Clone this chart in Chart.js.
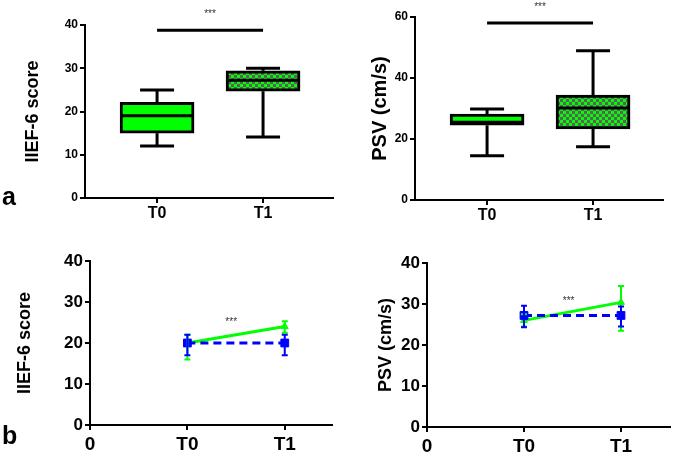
<!DOCTYPE html>
<html>
<head>
<meta charset="utf-8">
<script src="https://cdn.jsdelivr.net/npm/chart.js@4/dist/chart.umd.min.js"></script>
<style>
  html, body { margin: 0; padding: 0; background: #fff; }
  #wrap { position: relative; width: 676px; height: 453px; overflow: hidden; font-family: "Liberation Sans", Arial, sans-serif; }
  canvas { position: absolute; }
  .tag { position: absolute; font-weight: bold; font-size: 25px; line-height: 1; color: #000; }
</style>
</head>
<body>
<div id="wrap">
  <canvas id="c1" width="338" height="226" style="left:0;top:0"></canvas>
  <canvas id="c2" width="338" height="228" style="left:338px;top:0"></canvas>
  <canvas id="c3" width="338" height="225" style="left:0;top:228px"></canvas>
  <canvas id="c4" width="338" height="225" style="left:338px;top:228px"></canvas>
  <div class="tag" style="left:2px;top:184px">a</div>
  <div class="tag" style="left:2px;top:423px">b</div>
</div>
<script>
// ---- data ----
const timeLabels = ["T0", "T1"];
const timePos = [1, 2];

// (a) box plots: min / Q1 / median / Q3 / max
const iiefMin = [12, 14.1];
const iiefQ1 = [15, 24.7];
const iiefMed = [19, 27.2];
const iiefQ3 = [22.1, 29.4];
const iiefMax = [25, 30];
const iiefSig = 38.8;

const psvMin = [14.5, 17.5];
const psvQ1 = [24.5, 23.3];
const psvMed = [25.5, 30.2];
const psvQ3 = [28.2, 34.4];
const psvMax = [29.8, 48.9];
const psvSig = 58;

// (b) means with error bars, green = solid, blue = dashed
const iiefGreen = [20, 24];
const iiefGreenLo = [16, 22.5];
const iiefGreenHi = [22, 25.3];
const iiefBlue = [20, 20];
const iiefBlueLo = [17, 17];
const iiefBlueHi = [22, 22];
const iiefStar = [1.45, 25];

const psvGreen = [26, 30.4];
const psvGreenLo = [24.5, 23.5];
const psvGreenHi = [27.5, 34.4];
const psvBlue = [27.2, 27.2];
const psvBlueLo = [24.3, 24.5];
const psvBlueHi = [29.6, 29.4];
const psvStar = [1.46, 30.7];

const FONT = "'Liberation Sans', Arial, sans-serif";
const GREEN = "#00ff00";
const BLUE = "#0000ff";

function checker() {
  const c = document.createElement("canvas");
  c.width = 6; c.height = 6;
  const g = c.getContext("2d");
  g.fillStyle = "#5f5f5f"; g.fillRect(0, 0, 6, 6);
  g.fillStyle = GREEN; g.fillRect(0, 0, 3, 3); g.fillRect(3, 3, 3, 3);
  return g.createPattern(c, "repeat");
}

// whiskers, medians and the significance bar for the box panels
const boxExtras = {
  id: "boxExtras",
  afterDatasetsDraw(chart, args, o) {
    const { ctx, scales: { x, y } } = chart;
    ctx.save();
    ctx.strokeStyle = "#000"; ctx.lineWidth = 3; ctx.lineCap = "butt";
    const half = 37, cap = 17;
    timePos.forEach((p, i) => {
      const px = x.getPixelForValue(p);
      const seg = (x1, y1, x2, y2) => { ctx.beginPath(); ctx.moveTo(x1, y1); ctx.lineTo(x2, y2); ctx.stroke(); };
      seg(px, y.getPixelForValue(o.q3[i]), px, y.getPixelForValue(o.max[i]));
      seg(px, y.getPixelForValue(o.q1[i]), px, y.getPixelForValue(o.min[i]));
      seg(px - cap, y.getPixelForValue(o.max[i]), px + cap, y.getPixelForValue(o.max[i]));
      seg(px - cap, y.getPixelForValue(o.min[i]), px + cap, y.getPixelForValue(o.min[i]));
      seg(px - half + 2, y.getPixelForValue(o.med[i]), px + half - 2, y.getPixelForValue(o.med[i]));
    });
    const sy = y.getPixelForValue(o.sig);
    ctx.beginPath();
    ctx.moveTo(x.getPixelForValue(timePos[0]), sy);
    ctx.lineTo(x.getPixelForValue(timePos[1]), sy);
    ctx.stroke();
    ctx.fillStyle = "#333"; ctx.font = "10px " + FONT; ctx.textAlign = "center"; ctx.textBaseline = "middle";
    ctx.fillText("***", (x.getPixelForValue(timePos[0]) + x.getPixelForValue(timePos[1])) / 2, sy - 16);
    ctx.restore();
  }
};

// vertical error bars for the mean panels
const errBars = {
  id: "errBars",
  afterDatasetsDraw(chart, args, o) {
    const { ctx, scales: { x, y } } = chart;
    ctx.save();
    ctx.lineWidth = 2;
    o.sets.forEach(s => {
      ctx.strokeStyle = s.color;
      timePos.forEach((p, i) => {
        const px = x.getPixelForValue(p);
        const lo = y.getPixelForValue(s.lo[i]), hi = y.getPixelForValue(s.hi[i]);
        ctx.beginPath();
        ctx.moveTo(px, lo); ctx.lineTo(px, hi);
        ctx.moveTo(px - 3, lo); ctx.lineTo(px + 3, lo);
        ctx.moveTo(px - 3, hi); ctx.lineTo(px + 3, hi);
        ctx.stroke();
      });
    });
    ctx.fillStyle = "#333"; ctx.font = "10px " + FONT; ctx.textAlign = "center"; ctx.textBaseline = "middle";
    ctx.fillText("***", x.getPixelForValue(o.star[0]), y.getPixelForValue(o.star[1]));
    ctx.restore();
  }
};

function axisY(max, step, title, tSize, tPad, tickSize, w) {
  return {
    min: 0, max: max,
    ticks: { stepSize: step, color: "#000", padding: 2, font: { family: FONT, size: tickSize, weight: "bold" } },
    grid: { drawOnChartArea: false, drawTicks: true, tickLength: 5, color: "#000", lineWidth: 2 },
    border: { color: "#000", width: 2 },
    title: { display: true, text: title, color: "#000", font: { family: FONT, size: tSize, weight: "bold" }, padding: { top: tPad, bottom: 0 } },
    afterFit: s => { s.width = w; }
  };
}

function axisX(min, max, ticks, labels, size, pad, h) {
  return {
    type: "linear", min: min, max: max, offset: false,
    afterBuildTicks: s => { s.ticks = ticks.map(v => ({ value: v })); },
    ticks: { color: "#000", padding: pad, autoSkip: false, maxRotation: 0, font: { family: FONT, size: size, weight: "bold" },
      callback: v => labels[ticks.indexOf(v)] },
    grid: { offset: false, drawOnChartArea: false, drawTicks: true, tickLength: 5, color: "#000", lineWidth: 2 },
    border: { color: "#000", width: 2 },
    afterFit: s => { s.height = h; }
  };
}

function boxChart(id, min, q1, med, q3, max, sig, yMax, yStep, title, tSize, tPad, w, h, pad) {
  const pattern = checker();
  return new Chart(document.getElementById(id), {
    type: "bar",
    data: {
      datasets: [{
        data: timePos.map((p, i) => ({ x: p, y: [q1[i], q3[i]] })),
        backgroundColor: [GREEN, pattern],
        borderColor: "#000", borderWidth: 3, borderSkipped: false,
        barThickness: 74
      }]
    },
    options: {
      responsive: false, animation: false, devicePixelRatio: 1,
      layout: { padding: pad },
      plugins: { legend: { display: false }, tooltip: { enabled: false },
        boxExtras: { min, q1, med, q3, max, sig } },
      scales: {
        x: axisX(0.32, 2.66, timePos, timeLabels, 16, 1, h),
        y: axisY(yMax, yStep, title, tSize, tPad, 12, w)
      }
    },
    plugins: [boxExtras]
  });
}

function meanChart(id, green, gLo, gHi, blue, bLo, bHi, star, title, tPad, w, h, pad, xMax) {
  return new Chart(document.getElementById(id), {
    type: "line",
    data: {
      datasets: [
        { data: timePos.map((p, i) => ({ x: p, y: blue[i] })), borderColor: BLUE, backgroundColor: BLUE,
          borderWidth: 3, borderDash: [8, 5], pointStyle: "rect", pointRadius: 5.5, pointBorderWidth: 1 },
        { data: timePos.map((p, i) => ({ x: p, y: green[i] })), borderColor: GREEN, backgroundColor: GREEN,
          borderWidth: 3, pointStyle: "triangle", pointRadius: 4, pointBorderWidth: 1 }
      ]
    },
    options: {
      responsive: false, animation: false, devicePixelRatio: 1,
      layout: { padding: pad },
      plugins: { legend: { display: false }, tooltip: { enabled: false },
        errBars: { star, sets: [
          { color: GREEN, lo: gLo, hi: gHi },
          { color: BLUE, lo: bLo, hi: bHi }
        ] } },
      scales: {
        x: axisX(0, xMax, [0].concat(timePos), ["0"].concat(timeLabels), 19, 3, h),
        y: axisY(40, 10, title, 18, tPad, 17, w)
      }
    },
    plugins: [errBars]
  });
}

boxChart("c1", iiefMin, iiefQ1, iiefMed, iiefQ3, iiefMax, iiefSig, 40, 10, "IIEF-6 score", 18, 22, 85, 28,
  { top: 25, right: 5, left: 0, bottom: 0 });
boxChart("c2", psvMin, psvQ1, psvMed, psvQ3, psvMax, psvSig, 60, 20, "PSV (cm/s)", 20, 30, 77, 28,
  { top: 17, right: 13, left: 0, bottom: 0 });
meanChart("c3", iiefGreen, iiefGreenLo, iiefGreenHi, iiefBlue, iiefBlueLo, iiefBlueHi, iiefStar, "IIEF-6 score", 14, 90, 28,
  { top: 33, right: 4, left: 0, bottom: 0 }, 2.48);
meanChart("c4", psvGreen, psvGreenLo, psvGreenHi, psvBlue, psvBlueLo, psvBlueHi, psvStar, "PSV (cm/s)", 37, 89, 26,
  { top: 35, right: 2, left: 0, bottom: 0 }, 2.5);
</script>
</body>
</html>
